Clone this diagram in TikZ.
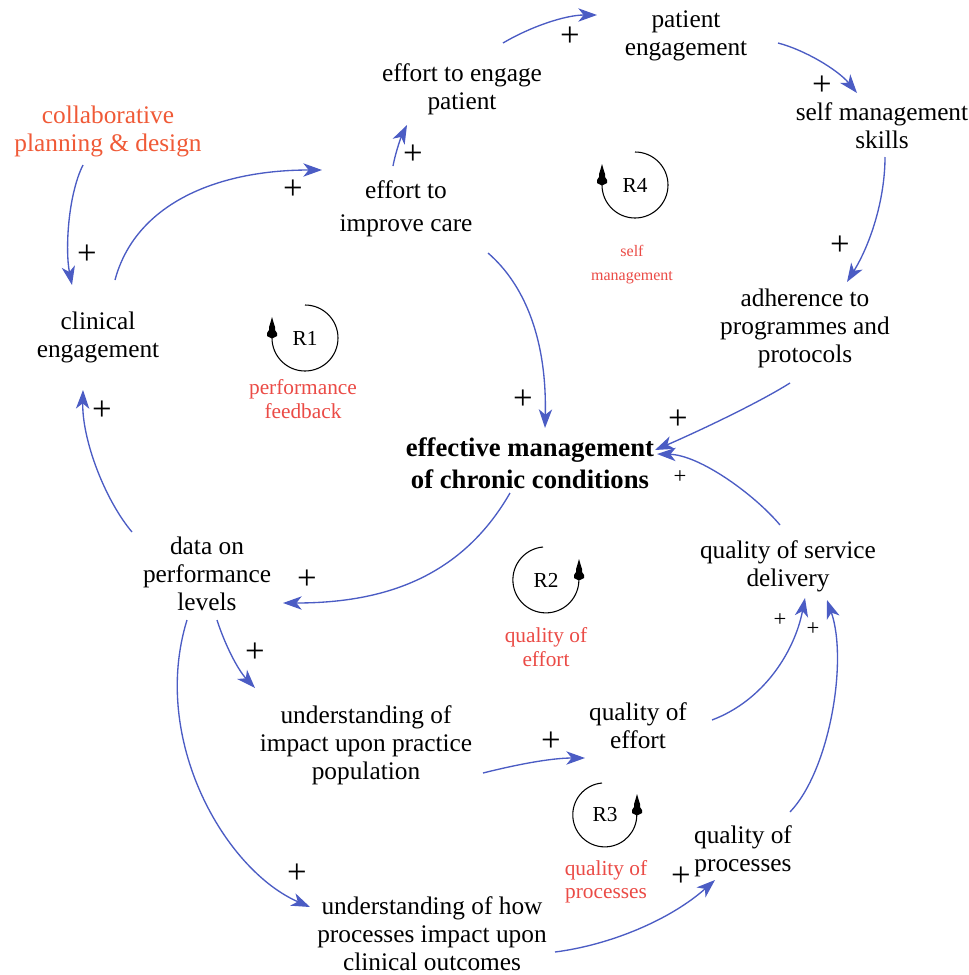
\documentclass[tikz,border=0pt]{standalone}
\usepackage{fontspec}
\setmainfont{Liberation Serif}
\usetikzlibrary{arrows.meta,calc}
\definecolor{arrblue}{RGB}{75,92,196}
\definecolor{collabcol}{RGB}{240,90,55}
\definecolor{loopcol}{RGB}{235,75,70}
\newcommand\looptree[1]{\fill[black] (#1) ++(-1,0) -- ++(-4,-2) -- ++(0,-3) -- ++(2,-3) -- ++(0,-3) -- ++(1,-3) -- ++(2,-7) -- ++(2,7) -- ++(1,3) -- ++(0,3) -- ++(2,3) -- ++(0,3) -- ++(-4,2) -- cycle;}
\begin{document}
\begin{tikzpicture}[x=0.75pt,y=-0.75pt,
  var/.style={font=\fontsize{19}{21}\selectfont, align=center, inner sep=0pt},
  bvar/.style={font=\fontsize{20}{24}\selectfont\bfseries, align=center, inner sep=0pt},
  collab/.style={var, text=collabcol},
  looplab/.style={font=\fontsize{16}{17.5}\selectfont, align=center, inner sep=0pt, text=loopcol},
  smalllooplab/.style={font=\fontsize{12}{18}\selectfont, align=center, inner sep=0pt, text=loopcol},
  loopid/.style={font=\fontsize{16}{18}\selectfont, inner sep=0pt},
  loopc/.style={draw=black, line width=0.8pt},
  plus/.style={font=\fontsize{26}{26}\selectfont, inner sep=0pt},
  splus/.style={font=\fontsize{17}{17}\selectfont, inner sep=0pt},
  arr/.style={draw=arrblue, line width=1pt, -{Stealth[length=14pt,width=10pt,inset=4pt]}}]
\useasboundingbox[fill=white] (0,0) rectangle (969,975);

% variables
\node[var] (pe) at (686,36) {patient\\engagement};
\node[var] (ete) at (462,89) {effort to engage\\patient};
\node[var] (sms) at (882,126) {self management\\skills};
\node[collab] (cpd) at (108,131) {collaborative\\planning \& design};
\node[var, font=\fontsize{19}{25}\selectfont] (eic) at (406,209) {effort to\\improve care};
\node[var] (ce) at (98,337) {clinical\\engagement};
\node[var] (adh) at (805,328) {adherence to\\programmes and\\protocols};
\node[bvar] (emcc) at (530,463) {effective management\\of chronic conditions};
\node[var] (dpl) at (207,574) {data on\\performance\\levels};
\node[var] (qsd) at (788,566) {quality of service\\delivery};
\node[var] (uip) at (366,745) {understanding of\\impact upon practice\\population};
\node[var] (qe) at (638,726) {quality of\\effort};
\node[var] (qp) at (743,851) {quality of\\processes};
\node[var] (uhp) at (432,934) {understanding of how\\processes impact upon\\clinical outcomes};

% loops
\node[loopid] (R1) at (305,338) {R1};
\node[loopid] (R2) at (546,580) {R2};
\node[loopid] (R3) at (605,815) {R3};
\node[loopid] (R4) at (635,185) {R4};
\draw[loopc] ($(R1)+(0,-33)$) arc[start angle=-90, end angle=180, radius=33];
\looptree{$(R1)+(-33,0)$}
\draw[loopc] ($(R4)+(0,-33)$) arc[start angle=-90, end angle=180, radius=33];
\looptree{$(R4)+(-33,0)$}
\draw[loopc] ($(R2)+(-3,-33)$) arc[start angle=-95, end angle=-360, radius=33];
\looptree{$(R2)+(33,0)$}
\draw[loopc] ($(R3)+(-3,-32)$) arc[start angle=-95, end angle=-360, radius=32];
\looptree{$(R3)+(32,0)$}
\node[looplab] (L1) at (303,399) {performance\\feedback};
\node[looplab] (L2) at (546,647) {quality of\\effort};
\node[looplab] (L3) at (606,882) {quality of\\processes};
\node[smalllooplab] (L4) at (632,265) {self\\management};

% connectors
\draw[arr] ($(ete)+(41,-46)$) .. controls (530,27) and (565,15) .. ($(pe)+(-89,-21)$);
\draw[arr] ($(pe)+(92,7)$) .. controls (805,50) and (838,70) .. ($(sms)+(-25,-33)$);
\draw[arr] ($(sms)+(3,31)$) .. controls (885,200) and (870,245) .. ($(adh)+(42,-46)$);
\draw[arr] ($(adh)+(-15,55)$) .. controls (755,405) and (690,435) .. ($(emcc)+(125,-13)$);
\draw[arr] ($(qsd)+(-8,-41)$) .. controls (755,495) and (700,455) .. ($(emcc)+(127,-9)$);
\draw[arr] ($(eic)+(82,44)$) .. controls (525,285) and (547,340) .. ($(emcc)+(15,-35)$);
\draw[arr] ($(eic)+(-13,-43)$) .. controls (396,150) and (402,135) .. ($(ete)+(-55,36)$);
\draw[arr] ($(ce)+(17,-57)$) .. controls (135,205) and (215,170) .. ($(eic)+(-84,-39)$);
\draw[arr] ($(cpd)+(-25,34)$) .. controls (68,195) and (65,250) .. ($(ce)+(-26,-52)$);
\draw[arr] ($(dpl)+(-75,-42)$) .. controls (105,500) and (82,440) .. ($(ce)+(-15,53)$);
\draw[arr] ($(emcc)+(-20,30)$) .. controls (460,580) and (380,603) .. ($(dpl)+(76,29)$);
\draw[arr] ($(dpl)+(10,46)$) .. controls (225,645) and (238,670) .. ($(uip)+(-111,-57)$);
\draw[arr] ($(dpl)+(-20,46)$) .. controls (150,740) and (225,870) .. ($(uhp)+(-122,-27)$);
\draw[arr] ($(uip)+(117,28)$) .. controls (515,765) and (550,758) .. ($(qe)+(-53,32)$);
\draw[arr] ($(qe)+(74,-6)$) .. controls (765,700) and (795,650) .. ($(qsd)+(17,32)$);
\draw[arr] ($(qp)+(47,-39)$) .. controls (830,770) and (848,660) .. ($(qsd)+(39,34)$);
\draw[arr] ($(uhp)+(123,18)$) .. controls (610,945) and (670,920) .. ($(qp)+(-28,29)$);

% polarities
\node[plus] (s1) at (570,37) {+};
\node[plus] (s2) at (822,86) {+};
\node[plus] (s3) at (840,246) {+};
\node[plus] (s4) at (678,420) {+};
\node[splus] (s5) at (680,477) {+};
\node[plus] (s6) at (523,400) {+};
\node[plus] (s7) at (413,155) {+};
\node[plus] (s8) at (293,190) {+};
\node[plus] (s9) at (87,255) {+};
\node[plus] (s10) at (102,411) {+};
\node[plus] (s11) at (307,580) {+};
\node[plus] (s12) at (255,653) {+};
\node[plus] (s13) at (297,874) {+};
\node[plus] (s14) at (551,742) {+};
\node[splus] (s15) at (780,620) {+};
\node[splus] (s16) at (813,629) {+};
\node[plus] (s17) at (681,877) {+};
\end{tikzpicture}
\end{document}
